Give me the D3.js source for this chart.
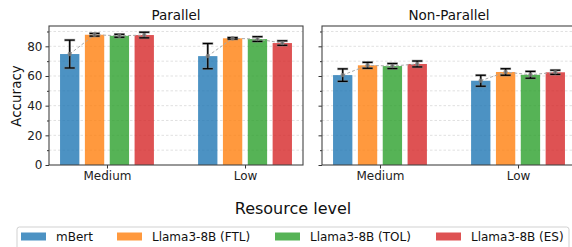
<!DOCTYPE html>
<html><head><meta charset="utf-8">
<script src="https://cdn.jsdelivr.net/npm/d3@7"></script>
<style>body{margin:0;background:#fff}svg{display:block;font-family:"DejaVu Sans",sans-serif}</style>
</head><body><svg id="c" width="572" height="247"></svg>
<script>
const panels = ["Parallel", "Non-Parallel"];
const categories = ["Medium", "Low"];
const seriesNames = ["mBert", "Llama3-8B (FTL)", "Llama3-8B (TOL)", "Llama3-8B (ES)"];
const colors = ["#1f77b4", "#ff7f0e", "#2ca02c", "#d62728"];
// means[panel][category][series]
const parallelMeans = [[74.8, 87.8, 87.1, 87.6], [73.4, 85.4, 84.9, 82.2]];
const parallelErrs  = [[9.4, 0.9, 1.0, 1.9], [8.5, 0.5, 1.6, 1.5]];
const nonParallelMeans = [[60.6, 67.2, 66.7, 68.1], [56.8, 62.7, 60.8, 62.5]];
const nonParallelErrs  = [[4.2, 2.0, 1.7, 2.0], [3.7, 2.2, 2.3, 1.4]];
const yTicks = [0, 20, 40, 60, 80];
const yMax = 93.7;

const means = [parallelMeans, nonParallelMeans];
const errs = [parallelErrs, nonParallelErrs];

const svg = d3.select("#c");
const plotTop = 26, plotBottom = 165, pw = 254;
const panelX = [49, 322];
const y = d3.scaleLinear().domain([0, yMax]).range([plotBottom, plotTop]);
const barW = 0.14, step = 0.18;

panels.forEach((pName, p) => {
  const g = svg.append("g").attr("transform", `translate(${panelX[p]},0)`);
  const x = d3.scaleLinear().domain([-0.42, 1.42]).range([0, pw]);
  // grid
  const gridVals = d3.range(10, 100, 10);
  g.selectAll(".grid").data(gridVals).join("line")
    .attr("x1", 0).attr("x2", pw).attr("y1", d => y(d)).attr("y2", d => y(d))
    .attr("stroke", "#d9d9d9").attr("stroke-width", 0.8).attr("stroke-dasharray", "2.5,2");
  // bars
  categories.forEach((cat, c) => {
    const pts = [];
    seriesNames.forEach((s, i) => {
      const cx = c + (i - 1.5) * step;
      const v = means[p][c][i], e = errs[p][c][i];
      g.append("rect")
        .attr("x", x(cx - barW / 2)).attr("width", x(cx + barW / 2) - x(cx - barW / 2))
        .attr("y", y(v)).attr("height", y(0) - y(v))
        .attr("fill", colors[i]).attr("fill-opacity", 0.8);
      pts.push({ px: x(cx), v, e });
    });
    // gray overlay (dashed trend, markers, thick error bars)
    const line = d3.line().x(d => d.px).y(d => y(d.v));
    g.append("path").attr("d", line(pts)).attr("fill", "none").attr("stroke", "#aaa")
      .attr("stroke-width", 1).attr("stroke-dasharray", "3,2");
    pts.forEach(d => {
      const eg = g.append("g").attr("stroke", "#808080").attr("stroke-opacity", 0.65).attr("stroke-width", 2.6);
      eg.append("line").attr("x1", d.px).attr("x2", d.px).attr("y1", y(d.v - d.e)).attr("y2", y(d.v + d.e));
      [d.v - d.e, d.v + d.e].forEach(t => eg.append("line").attr("x1", d.px - 5.5).attr("x2", d.px + 5.5).attr("y1", y(t)).attr("y2", y(t)));
    });
    // black error bars
    pts.forEach(d => {
      const eg = g.append("g").attr("stroke", "#000").attr("stroke-width", 1.3);
      eg.append("line").attr("x1", d.px).attr("x2", d.px).attr("y1", y(d.v - d.e)).attr("y2", y(d.v + d.e));
      [d.v - d.e, d.v + d.e].forEach(t => eg.append("line").attr("x1", d.px - 5).attr("x2", d.px + 5).attr("y1", y(t)).attr("y2", y(t)));
    });
    pts.forEach(d => {
      g.append("circle").attr("cx", d.px).attr("cy", y(d.v)).attr("r", 2.2).attr("fill", "#808080").attr("fill-opacity", 0.8);
    });
  });
  // axes
  const yAxis = d3.axisLeft(y).tickValues(yTicks).tickSize(3.5).tickPadding(3)
    .tickFormat(p === 0 ? d3.format("d") : () => "");
  const ya = g.append("g").call(yAxis);
  ya.select(".domain").remove();
  ya.selectAll("text").attr("font-size", 12).attr("fill", "#222").attr("font-family", "DejaVu Sans");
  ya.selectAll("line").attr("stroke", "#333");
  const yMinor = d3.axisLeft(y).tickValues(d3.range(10, 100, 20)).tickSize(2).tickFormat("");
  const ym = g.append("g").call(yMinor);
  ym.select(".domain").remove();
  ym.selectAll("line").attr("stroke", "#333");
  const xAxis = d3.axisBottom(x).tickValues([0, 1]).tickFormat(i => categories[i]).tickSize(3.5).tickPadding(3);
  const xa = g.append("g").attr("transform", `translate(0,${plotBottom})`).call(xAxis);
  xa.select(".domain").remove();
  xa.selectAll("text").attr("font-size", 12).attr("fill", "#222").attr("font-family", "DejaVu Sans");
  xa.selectAll("line").attr("stroke", "#333");
  // spines
  g.append("rect").attr("x", 0).attr("y", plotTop).attr("width", pw).attr("height", plotBottom - plotTop)
    .attr("fill", "none").attr("stroke", "#444").attr("stroke-width", 1.1);
  // title
  g.append("text").attr("x", pw / 2).attr("y", 20).attr("text-anchor", "middle")
    .attr("font-size", 13.5).attr("fill", "#111").text(pName);
});

svg.append("text").attr("transform", "translate(21,96) rotate(-90)").attr("text-anchor", "middle")
  .attr("font-size", 13.5).attr("fill", "#111").text("Accuracy");
svg.append("text").attr("x", 293).attr("y", 213.5).attr("text-anchor", "middle")
  .attr("font-size", 16).attr("fill", "#111").text("Resource level");

// legend
svg.append("rect").attr("x", 17).attr("y", 227).attr("width", 552).attr("height", 28).attr("rx", 2.5)
  .attr("fill", "#fff").attr("stroke", "#ccc").attr("stroke-width", 0.9);
const legX = [21, 117, 275, 436];
seriesNames.forEach((s, i) => {
  svg.append("rect").attr("x", legX[i]).attr("y", 232.5).attr("width", 25).attr("height", 8)
    .attr("fill", colors[i]).attr("fill-opacity", 0.8);
  svg.append("text").attr("x", legX[i] + 35).attr("y", 241).attr("font-size", 12).attr("fill", "#111").text(s);
});
</script></body></html>
